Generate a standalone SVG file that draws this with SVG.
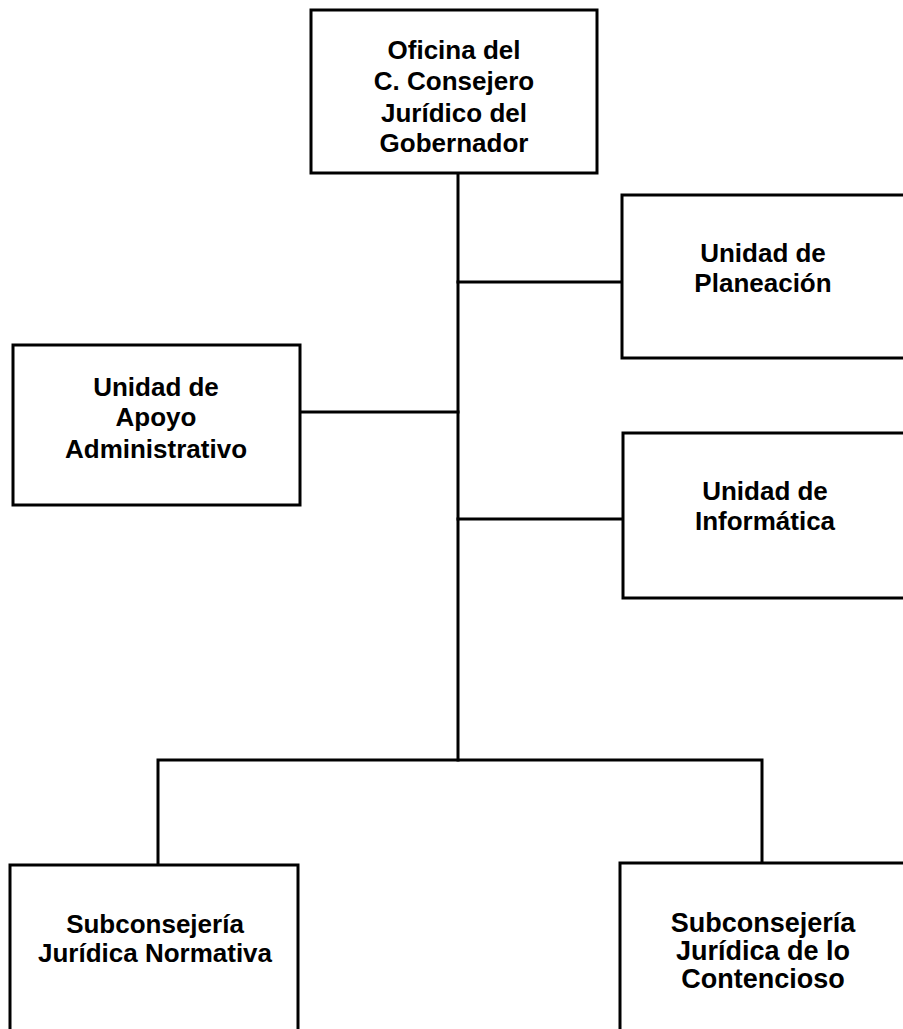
<svg xmlns="http://www.w3.org/2000/svg" width="903" height="1029" viewBox="0 0 903 1029">
  <style>
    .box { fill: #ffffff; stroke: #000000; stroke-width: 3; }
    .link { fill: none; stroke: #000000; stroke-width: 3; stroke-linecap: square; }
    .label { font-family: "Liberation Sans", Arial, sans-serif; font-weight: bold; font-size: 26px; fill: #000000; text-anchor: middle; }
    .label.big { font-size: 27px; }
  </style>
  <rect width="903" height="1029" fill="#ffffff"/>

  <g id="connectors">
    <!-- trunk from the head office down to the bottom bus -->
    <line class="link" x1="458" y1="173" x2="458" y2="760"/>
    <!-- side branches -->
    <line class="link" x1="458" y1="282" x2="622" y2="282"/>
    <line class="link" x1="300" y1="412" x2="458" y2="412"/>
    <line class="link" x1="458" y1="519" x2="623" y2="519"/>
    <!-- bottom bus and drops -->
    <polyline class="link" points="158,865 158,760 762,760 762,863"/>
  </g>

  <g id="oficina">
    <rect class="box" x="311" y="10" width="286" height="163"/>
    <text class="label" x="454" y="59">Oficina del</text>
    <text class="label" x="454" y="90">C. Consejero</text>
    <text class="label" x="454" y="122">Jurídico del</text>
    <text class="label" x="454" y="152">Gobernador</text>
  </g>

  <g id="planeacion">
    <rect class="box" x="622" y="195" width="283" height="163"/>
    <text class="label" x="763" y="262">Unidad de</text>
    <text class="label" x="763" y="292">Planeación</text>
  </g>

  <g id="apoyo">
    <rect class="box" x="13" y="345" width="287" height="160"/>
    <text class="label" x="156" y="396">Unidad de</text>
    <text class="label" x="156" y="426">Apoyo</text>
    <text class="label" x="156" y="458">Administrativo</text>
  </g>

  <g id="informatica">
    <rect class="box" x="623" y="433" width="283" height="165"/>
    <text class="label" x="765" y="500">Unidad de</text>
    <text class="label" x="765" y="530">Informática</text>
  </g>

  <g id="normativa">
    <rect class="box" x="10" y="865" width="288" height="180"/>
    <text class="label" x="155" y="933">Subconsejería</text>
    <text class="label" x="155" y="962">Jurídica Normativa</text>
  </g>

  <g id="contencioso">
    <rect class="box" x="620" y="863" width="290" height="180"/>
    <text class="label big" x="763" y="932">Subconsejería</text>
    <text class="label big" x="763" y="960">Jurídica de lo</text>
    <text class="label big" x="763" y="988">Contencioso</text>
  </g>
</svg>
